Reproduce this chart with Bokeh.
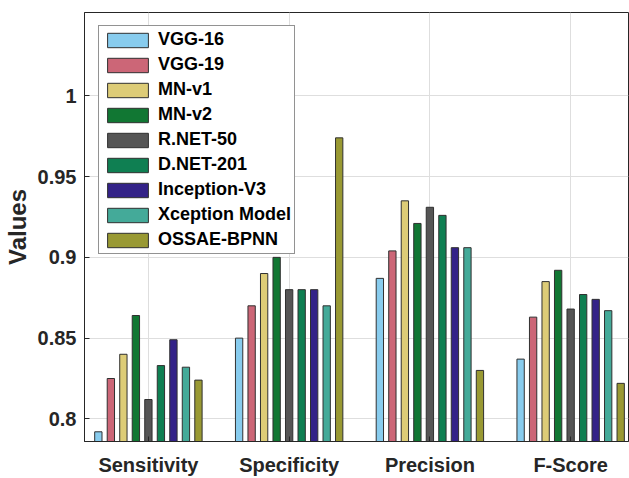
from bokeh.plotting import figure
from bokeh.models import Range1d, FixedTicker, Legend, LegendItem
from bokeh.embed import file_html
from bokeh.resources import INLINE

categories = ["Sensitivity", "Specificity", "Precision", "F-Score"]
models = ["VGG-16", "VGG-19", "MN-v1", "MN-v2", "R.NET-50", "D.NET-201",
          "Inception-V3", "Xception Model", "OSSAE-BPNN"]
vgg16 = [0.792, 0.850, 0.887, 0.837]
vgg19 = [0.825, 0.870, 0.904, 0.863]
mnv1 = [0.840, 0.890, 0.935, 0.885]
mnv2 = [0.864, 0.900, 0.921, 0.892]
rnet50 = [0.812, 0.880, 0.931, 0.868]
dnet201 = [0.833, 0.880, 0.926, 0.877]
inception = [0.849, 0.880, 0.906, 0.874]
xception = [0.832, 0.870, 0.906, 0.867]
ossae = [0.824, 0.974, 0.830, 0.822]
series = [vgg16, vgg19, mnv1, mnv2, rnet50, dnet201, inception, xception, ossae]
colors = ["#88CCEE", "#CC6677", "#DDCC77", "#117733", "#555555", "#0F7F52",
          "#332288", "#44AA99", "#999933"]
y_ticks = [0.8, 0.85, 0.9, 0.95, 1.0]
y_labels = ["0.8", "0.85", "0.9", "0.95", "1"]

FONT = "Liberation Sans"
TXT = "#262626"

p = figure(width=629, height=478, output_backend="svg", toolbar_location=None,
           x_range=Range1d(0.546, 4.411), y_range=Range1d(0.786, 1.0516),
           min_border_left=83, min_border_right=1, min_border_top=12,
           min_border_bottom=34)
p.outline_line_color = TXT
p.outline_line_width = 1
p.background_fill_color = "white"
p.border_fill_color = "white"

group_x = [i + 1 for i in range(len(categories))]
n = len(series)
step = 0.8 / n
items = []
for k, (name, vals, col) in enumerate(zip(models, series, colors)):
    xs = [g + (k - (n - 1) / 2) * step for g in group_x]
    r = p.vbar(x=xs, top=vals, bottom=0.7, width=0.052, fill_color=col,
               line_color="#303030", line_width=1)
    items.append(LegendItem(label=name, renderers=[r]))

xa = p.xaxis[0]
xa.ticker = FixedTicker(ticks=group_x)
xa.major_label_overrides = {g: c for g, c in zip(group_x, categories)}
ya = p.yaxis[0]
ya.ticker = FixedTicker(ticks=y_ticks)
ya.major_label_overrides = {t: s for t, s in zip(y_ticks, y_labels)}
ya.axis_label = "Values"

for ax in (xa, ya):
    ax.axis_line_color = TXT
    ax.major_tick_line_color = TXT
    ax.major_tick_in = 5
    ax.major_tick_out = 0
    ax.minor_tick_line_color = None
    ax.major_label_text_font = FONT
    ax.major_label_text_font_style = "bold"
    ax.major_label_text_font_size = "20px"
    ax.major_label_text_color = TXT
    ax.axis_label_text_font = FONT
    ax.axis_label_text_font_style = "bold"
    ax.axis_label_text_font_size = "24px"
    ax.axis_label_text_color = TXT
xa.major_label_standoff = 12
ya.major_label_standoff = 8
ya.axis_label_standoff = 4

p.xgrid.ticker = FixedTicker(ticks=group_x)
p.ygrid.ticker = FixedTicker(ticks=y_ticks)
p.xgrid.grid_line_color = "#dedede"
p.ygrid.grid_line_color = "#dedede"

legend = Legend(items=items, location=(14, 187))
legend.label_text_font = FONT
legend.label_text_font_style = "bold"
legend.label_text_font_size = "18px"
legend.label_text_color = "black"
legend.glyph_width = 51
legend.glyph_height = 18
legend.label_height = 18
legend.label_standoff = 5
legend.spacing = 4
legend.padding = 3
legend.margin = 0
legend.border_line_color = TXT
legend.border_line_width = 1
legend.background_fill_alpha = 1
p.add_layout(legend, "center")

open("out.html", "w").write(file_html(p, INLINE))
